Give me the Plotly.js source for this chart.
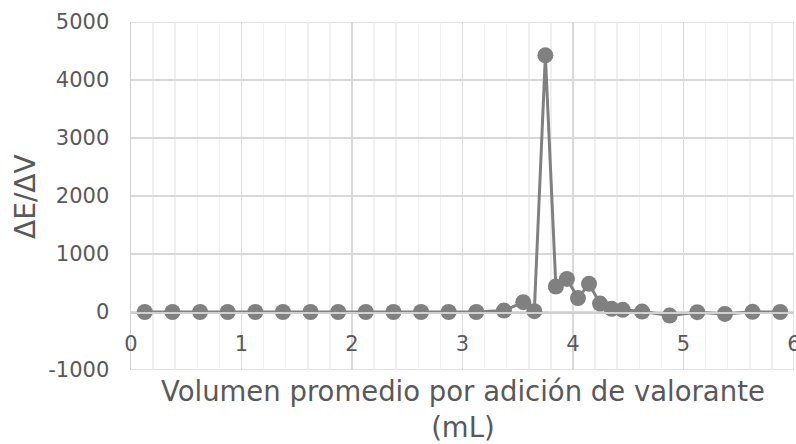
<!DOCTYPE html>
<html>
<head>
<meta charset="utf-8">
<script src="https://cdn.plot.ly/plotly-3.0.1.min.js"></script>
<style>
  html, body { margin: 0; padding: 0; background: #ffffff; }
  #chart { width: 796px; height: 444px; }
</style>
</head>
<body>
<div id="chart"></div>
<script>
// Average titrant volume per addition (mL)
const volumenPromedio = [
  0.125, 0.375, 0.625, 0.875, 1.125, 1.375, 1.625, 1.875, 2.125, 2.375,
  2.625, 2.875, 3.125, 3.375, 3.55, 3.65, 3.75, 3.845, 3.945, 4.045,
  4.145, 4.245, 4.35, 4.45, 4.625, 4.875, 5.125, 5.375, 5.625, 5.875
];
// First derivative dE/dV
const derivada = [
  0, 0, 0, 0, 0, 0, 0, 0, 0, 0,
  0, 0, 0, 25, 170, 15, 4425, 440, 570, 240,
  485, 145, 55, 38, 8, -62, -3, -33, 3, 0
];

const xTickVals = [0, 1, 2, 3, 4, 5, 6];
const xTickText = ['0', '1', '2', '3', '4', '5', '6'];
const yTickVals = [-1000, 0, 1000, 2000, 3000, 4000, 5000];
const yTickText = ['-1000', '0', '1000', '2000', '3000', '4000', '5000'];

const xTitle = 'Volumen promedio por adición de valorante<br>(mL)';
const yTitle = 'ΔE/ΔV';

const textColor = '#595959';
const fontFamily = '"DejaVu Sans", sans-serif';
const axisLine = '#d0d0d0';

const trace = {
  x: volumenPromedio,
  y: derivada,
  type: 'scatter',
  mode: 'lines+markers',
  line: { color: '#808080', width: 3 },
  marker: { color: '#808080', size: 16 },
  cliponaxis: false,
  hoverinfo: 'x+y'
};

const layout = {
  width: 796,
  height: 444,
  margin: { l: 131, r: 2, t: 22, b: 74 },
  paper_bgcolor: '#ffffff',
  plot_bgcolor: '#ffffff',
  showlegend: false,
  font: { family: fontFamily, color: textColor, size: 21 },
  xaxis: {
    range: [0, 6],
    tickmode: 'array',
    tickvals: xTickVals,
    ticktext: xTickText,
    anchor: 'free',
    position: 1 / 6,
    showline: true,
    linecolor: axisLine,
    linewidth: 1.5,
    showgrid: true,
    gridcolor: '#d9d9d9',
    gridwidth: 1.5,
    zeroline: false,
    ticks: 'outside',
    ticklen: 12,
    tickcolor: 'rgba(0,0,0,0)',
    ticklabeloverflow: 'allow',
    tickfont: { family: fontFamily, color: textColor, size: 21 },
    minor: { dtick: 0.2, tick0: 0, showgrid: true, gridcolor: '#efefef', gridwidth: 1.5 }
  },
  yaxis: {
    range: [-1000, 5000],
    tickmode: 'array',
    tickvals: yTickVals,
    ticktext: yTickText,
    showline: true,
    linecolor: axisLine,
    linewidth: 1.5,
    showgrid: true,
    gridcolor: '#d9d9d9',
    gridwidth: 1.5,
    zeroline: false,
    ticks: 'outside',
    ticklen: 16,
    tickcolor: 'rgba(0,0,0,0)',
    tickfont: { family: fontFamily, color: textColor, size: 21 }
  },
  shapes: [
    // right, top and bottom edges of the grid
    { type: 'line', xref: 'x', yref: 'paper', x0: 6, x1: 6, y0: 0, y1: 1,
      line: { color: '#d9d9d9', width: 1.5 }, layer: 'below' },
    { type: 'line', xref: 'paper', yref: 'y', x0: 0, x1: 1, y0: 5000, y1: 5000,
      line: { color: '#d9d9d9', width: 1.5 }, layer: 'below' },
    { type: 'line', xref: 'paper', yref: 'y', x0: 0, x1: 1, y0: -1000, y1: -1000,
      line: { color: '#d9d9d9', width: 1.5 }, layer: 'below' }
  ],
  annotations: [
    { text: xTitle, xref: 'paper', yref: 'paper', x: 0.5, y: 0,
      xanchor: 'center', yanchor: 'top', yshift: -3, showarrow: false,
      font: { family: fontFamily, color: textColor, size: 27.5 } },
    { text: yTitle, xref: 'paper', yref: 'paper', x: -0.16, y: 0.5,
      xanchor: 'center', yanchor: 'middle', textangle: -90, showarrow: false,
      font: { family: fontFamily, color: textColor, size: 28 } }
  ]
};

Plotly.newPlot('chart', [trace], layout, { displayModeBar: false, staticPlot: true });
</script>
</body>
</html>
